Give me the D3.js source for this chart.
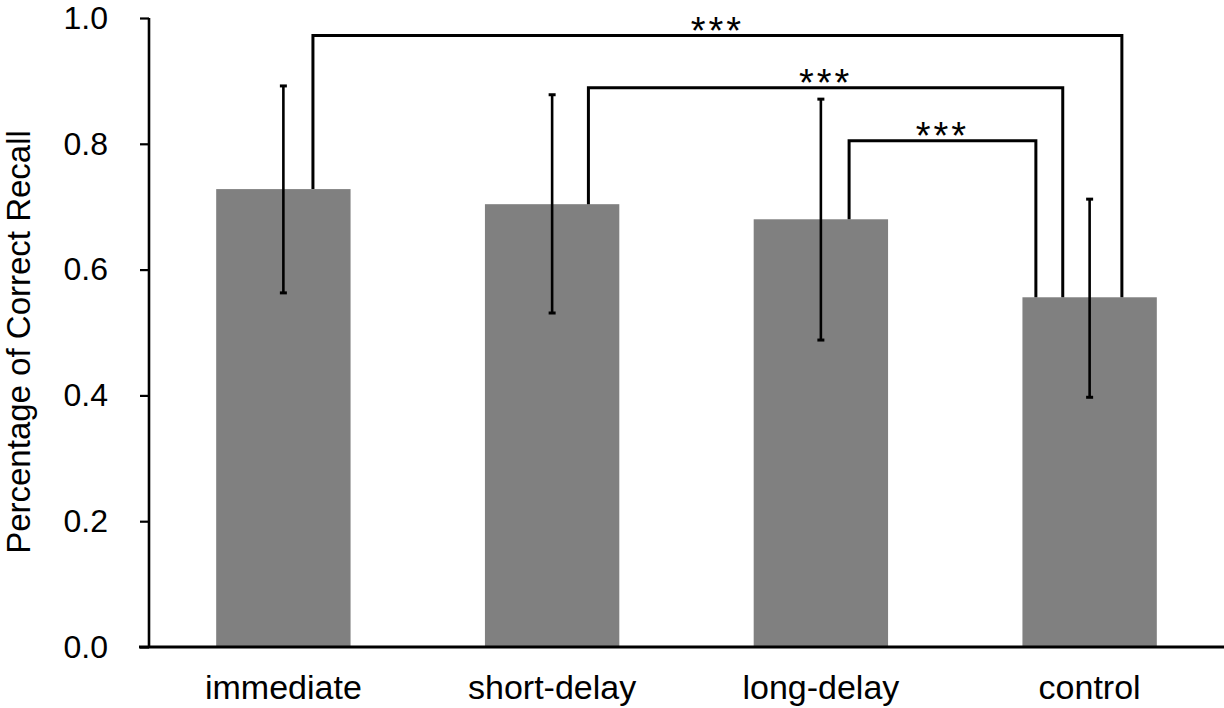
<!DOCTYPE html>
<html>
<head>
<meta charset="utf-8">
<script src="https://cdn.jsdelivr.net/npm/d3@7"></script>
<style>
  body { margin: 0; background: #fff; }
  text { font-family: "Liberation Sans", Arial, sans-serif; fill: #000; }
</style>
</head>
<body>
<div id="chart"></div>
<script>
// chart values
let categories = ["immediate", "short-delay", "long-delay", "control"];
let means = [0.728, 0.704, 0.680, 0.556];
let errLow = [0.563, 0.531, 0.488, 0.397];
let errHigh = [0.892, 0.878, 0.871, 0.712];
let yTicks = [0.0, 0.2, 0.4, 0.6, 0.8, 1.0];

// significance brackets: from, to, height, label
let bracketFrom = ["immediate", "short-delay", "long-delay"];
let bracketTo = ["control", "control", "control"];
let bracketLevel = [0.972, 0.889, 0.805];
let bracketLabel = ["***", "***", "***"];

// where each leg sits relative to the bar centre (fraction of bar width)
let legFromShift = [0.22, 0.27, 0.21];
let legToShift = [0.24, -0.2, -0.4];

let width = 1224, height = 708;
let margin = {top: 18, right: 0, bottom: 61, left: 149};

let svg = d3.select("#chart").append("svg")
    .attr("width", width)
    .attr("height", height);

let x = d3.scaleBand()
    .domain(categories)
    .range([margin.left, width - margin.right])
    .paddingInner(0.5)
    .paddingOuter(0.25);

let y = d3.scaleLinear()
    .domain([0, 1])
    .range([height - margin.bottom, margin.top]);

let bars = categories.map((c, i) => ({cat: c, mean: means[i], lo: errLow[i], hi: errHigh[i]}));

// bars
svg.append("g").selectAll("rect")
    .data(bars)
    .join("rect")
    .attr("x", d => x(d.cat))
    .attr("y", d => y(d.mean))
    .attr("width", x.bandwidth())
    .attr("height", d => y(0) - y(d.mean))
    .attr("fill", "#808080");

// error bars
let eb = svg.append("g").attr("stroke", "#000");
let cx = d => x(d.cat) + x.bandwidth() / 2;
eb.selectAll("line.stem")
    .data(bars)
    .join("line")
    .attr("class", "stem")
    .attr("x1", cx).attr("x2", cx)
    .attr("y1", d => y(d.lo)).attr("y2", d => y(d.hi))
    .attr("stroke-width", 2.6);
eb.selectAll("line.capHi")
    .data(bars)
    .join("line")
    .attr("class", "capHi")
    .attr("x1", d => cx(d) - 3.5).attr("x2", d => cx(d) + 3.5)
    .attr("y1", d => y(d.hi)).attr("y2", d => y(d.hi))
    .attr("stroke-width", 3);
eb.selectAll("line.capLo")
    .data(bars)
    .join("line")
    .attr("class", "capLo")
    .attr("x1", d => cx(d) - 3.5).attr("x2", d => cx(d) + 3.5)
    .attr("y1", d => y(d.lo)).attr("y2", d => y(d.lo))
    .attr("stroke-width", 3);

// y axis
let yAxis = svg.append("g")
    .attr("transform", "translate(" + margin.left + ",0)")
    .call(d3.axisLeft(y).tickValues(yTicks).tickFormat(d3.format(".1f")).tickSize(9).tickPadding(32));
yAxis.select(".domain").attr("stroke-width", 2.6).attr("d", "M0," + y(1) + "V" + y(0));
yAxis.selectAll(".tick line").attr("stroke-width", 2.2);
yAxis.selectAll(".tick text")
    .attr("font-size", 32)
    .attr("font-family", "Liberation Sans, Arial, sans-serif")
    .attr("dy", "0.32em");

// x axis
let xAxis = svg.append("g")
    .attr("transform", "translate(0," + y(0) + ")")
    .call(d3.axisBottom(x).tickSize(0).tickPadding(28));
xAxis.select(".domain")
    .attr("stroke-width", 2.8)
    .attr("d", "M" + (margin.left - 10) + ",0H" + (width - margin.right));
xAxis.selectAll(".tick text")
    .attr("font-size", 34)
    .attr("font-family", "Liberation Sans, Arial, sans-serif");

// y axis title
svg.append("text")
    .attr("transform", "translate(30," + 342 + ") rotate(-90)")
    .attr("text-anchor", "middle")
    .attr("font-size", 33)
    .text("Percentage of Correct Recall");

// significance brackets
let brackets = bracketFrom.map((f, i) => ({
    x1: x(f) + x.bandwidth() * (0.5 + legFromShift[i]),
    x2: x(bracketTo[i]) + x.bandwidth() * (0.5 + legToShift[i]),
    y1: y(means[categories.indexOf(f)]),
    y2: y(means[categories.indexOf(bracketTo[i])]),
    top: y(bracketLevel[i]),
    label: bracketLabel[i]
}));

let bg = svg.append("g");
bg.selectAll("path")
    .data(brackets)
    .join("path")
    .attr("d", d => "M" + d.x1 + "," + d.y1 + "V" + d.top + "H" + d.x2 + "V" + d.y2)
    .attr("fill", "none")
    .attr("stroke", "#000")
    .attr("stroke-width", 3);

bg.selectAll("text")
    .data(brackets)
    .join("text")
    .attr("x", d => (d.x1 + d.x2) / 2)
    .attr("y", d => d.top + 8)
    .attr("text-anchor", "middle")
    .attr("font-size", 38)
    .attr("letter-spacing", 3)
    .text(d => d.label);
</script>
</body>
</html>
